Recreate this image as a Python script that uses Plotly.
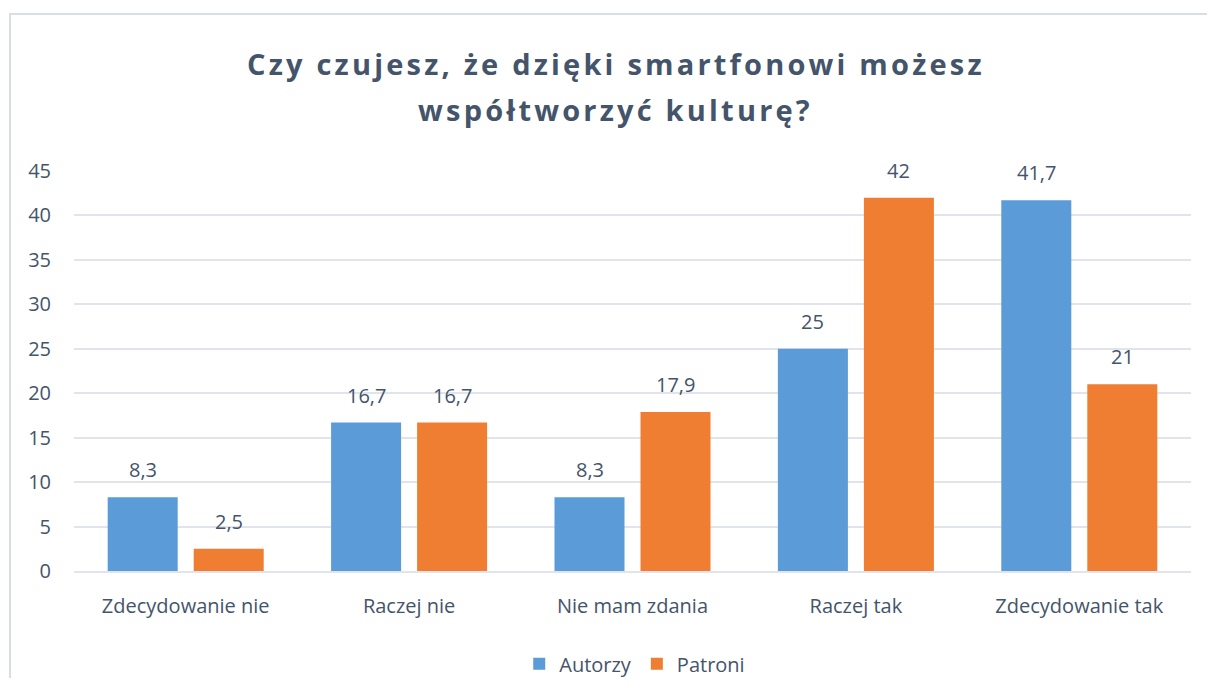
import plotly.graph_objects as go

categories = ["Zdecydowanie nie", "Raczej nie", "Nie mam zdania", "Raczej tak", "Zdecydowanie tak"]
autorzy = [8.3, 16.7, 8.3, 25, 41.7]
patroni = [2.5, 16.7, 17.9, 42, 21]
y_ticks = [0, 5, 10, 15, 20, 25, 30, 35, 40, 45]
title_lines = ["Czy czujesz, że dzięki smartfonowi możesz", "współtworzyć kulturę?"]

TXT = "#44546A"
FONT = "Open Sans"

def lab(v):
    return ("%g" % v).replace(".", ",")

fig = go.Figure()
fig.add_trace(go.Bar(name="Autorzy", x=categories, y=autorzy,
                     marker=dict(color="#5B9BD8", line_width=0)))
fig.add_trace(go.Bar(name="Patroni", x=categories, y=patroni,
                     marker=dict(color="#F07E32", line_width=0)))

annotations = []
for series, shift in ((autorzy, -43), (patroni, 43)):
    for c, v in zip(categories, series):
        annotations.append(dict(x=c, y=v, xref="x", yref="y", text=lab(v), showarrow=False,
                                xshift=shift, yshift=12, yanchor="bottom", xanchor="center",
                                font=dict(size=20, color=TXT, family=FONT)))
for txt, yp in zip(title_lines, (1.27, 1.1525)):
    annotations.append(dict(x=0.4852, y=yp, xref="paper", yref="paper", showarrow=False,
                            xanchor="center", yanchor="middle",
                            text='<b><span style="letter-spacing:3.2px">%s</span></b>' % txt,
                            font=dict(size=29, color=TXT, family=FONT)))

fig.update_layout(
    width=1199, height=670,
    paper_bgcolor="white", plot_bgcolor="white",
    margin=dict(l=66, r=16, t=163, b=107, autoexpand=False),
    font=dict(family=FONT, color=TXT, size=20),
    barmode="group", bargap=0.23, bargroupgap=0.186,
    showlegend=True,
    legend=dict(orientation="h", x=0.502, xanchor="center", y=-0.232, yanchor="middle",
                font=dict(size=20, color=TXT, family=FONT),
                itemwidth=30, traceorder="normal"),
    annotations=annotations,
    shapes=[dict(type="rect", xref="paper", yref="paper", x0=-0.0573, x1=1.05, y0=-0.5, y1=1.3925,
                 line=dict(color="#D9DEE6", width=2), fillcolor="rgba(0,0,0,0)", layer="below")],
)
fig.update_yaxes(range=[0, 45], tickvals=y_ticks, showgrid=True, gridcolor="#E1E5EB", gridwidth=2,
                 zeroline=False, showline=False, ticks="", tickfont=dict(size=20, color=TXT),
                 ticklabelstandoff=22)
fig.update_xaxes(showline=True, linecolor="#E1E5EB", linewidth=2, ticks="",
                 tickfont=dict(size=20, color=TXT), ticklabelstandoff=16)

fig.write_html("out.html")
